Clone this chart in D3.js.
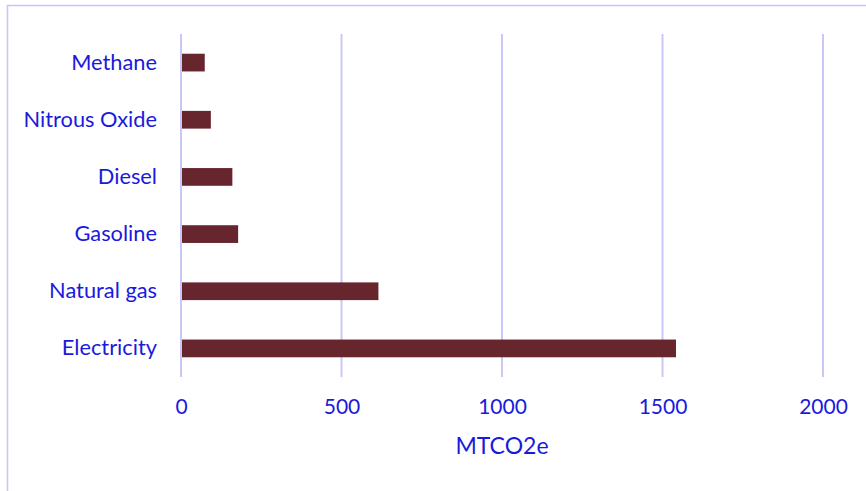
<!DOCTYPE html>
<html>
<head>
<meta charset="utf-8">
<script src="https://cdn.jsdelivr.net/npm/d3@7"></script>
<style>
  html, body { margin: 0; padding: 0; background: #fff; }
  svg { display: block; }
</style>
</head>
<body>
<svg id="chart" width="866" height="491"></svg>
<script>
// Emissions by source (MTCO2e)
const categories = ["Methane", "Nitrous Oxide", "Diesel", "Gasoline", "Natural gas", "Electricity"];
const values = [74, 93, 160, 178, 615, 1542];
const xTicks = [0, 500, 1000, 1500, 2000];
const xTitle = "MTCO2e";

const svg = d3.select("#chart");
const W = 866, H = 491;
const font = "Lato, 'Open Sans', sans-serif";
const textColor = "#1a1adc";

// Chart frame (extends past the right and bottom edges)
svg.append("rect")
  .attr("x", 7.5).attr("y", 5.5)
  .attr("width", W + 10).attr("height", H + 10)
  .attr("fill", "none")
  .attr("stroke", "#c6c6f6")
  .attr("stroke-width", 1.5);

const plot = { left: 181, right: 823, top: 34, bottom: 377 };

const x = d3.scaleLinear().domain([0, 2000]).range([plot.left, plot.right]);
const y = d3.scaleBand().domain(categories).range([plot.top, plot.bottom])
  .paddingInner(0.69).paddingOuter(0.345);

// Vertical gridlines
svg.append("g").selectAll("line").data(xTicks).join("line")
  .attr("x1", d => x(d)).attr("x2", d => x(d))
  .attr("y1", plot.top).attr("y2", plot.bottom)
  .attr("stroke", "#c8c8f6")
  .attr("stroke-width", 2);

// Bars
svg.append("g").selectAll("rect").data(categories).join("rect")
  .attr("x", x(0) + 1)
  .attr("y", d => y(d))
  .attr("width", (d, i) => x(values[i]) - x(0) - 1)
  .attr("height", y.bandwidth())
  .attr("fill", "#67252e");

// Category labels
const yAxis = d3.axisLeft(y).tickSize(0).tickPadding(0);
const gy = svg.append("g").attr("transform", `translate(${plot.left - 24},0)`).call(yAxis);
gy.select(".domain").remove();
gy.selectAll("text")
  .attr("font-family", font).attr("font-size", 21.8)
  .attr("fill", textColor);

// Value axis labels
const xAxis = d3.axisBottom(x).tickValues(xTicks).tickSize(0).tickPadding(0).tickFormat(d3.format("d"));
const gx = svg.append("g").attr("transform", `translate(0,${plot.bottom + 22})`).call(xAxis);
gx.select(".domain").remove();
gx.selectAll("text")
  .attr("font-family", font).attr("font-size", 21)
  .attr("fill", textColor);

// Axis title
svg.append("text")
  .attr("x", (plot.left + plot.right) / 2)
  .attr("y", 454)
  .attr("text-anchor", "middle")
  .attr("font-family", font).attr("font-size", 23)
  .attr("fill", textColor)
  .text(xTitle);
</script>
</body>
</html>
